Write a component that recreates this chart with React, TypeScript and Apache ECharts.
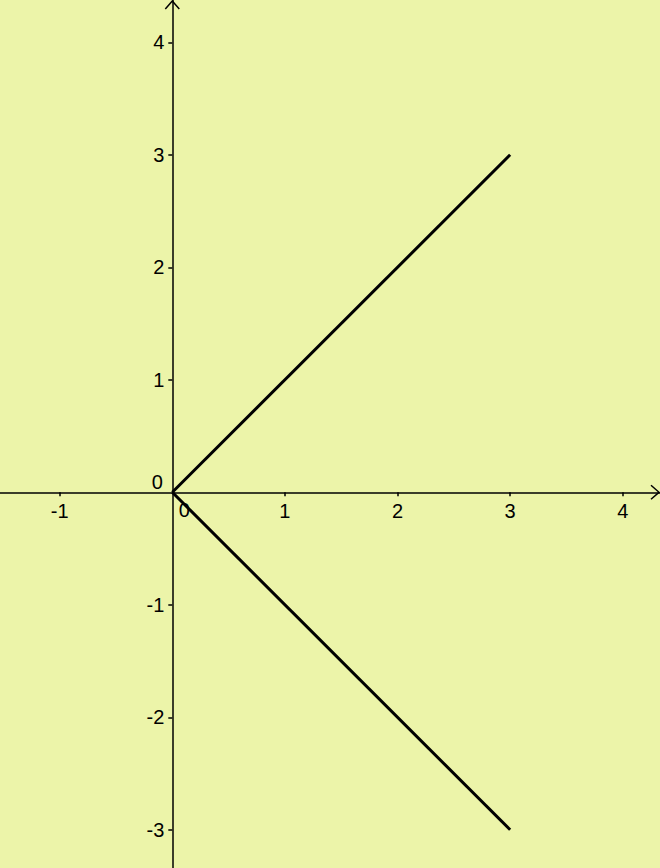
import React, { useEffect, useRef } from 'react';
import * as echarts from 'echarts';

const xRange = [-1.53, 4.331];
const yRange = [-3.34, 4.376];
const xTicks = [-1, 1, 2, 3, 4];
const yTicks = [-3, -2, -1, 1, 2, 3, 4];
const rayUp = [[0, 0], [3, 3]];
const rayDown = [[0, 0], [3, -3]];

const BG = '#ECF4A9';
const FONT = 'Liberation Sans, Arial, sans-serif';

export default function App() {
  const ref = useRef<HTMLDivElement>(null);
  useEffect(() => {
    document.body.style.margin = '0';
    const chart = echarts.init(ref.current!, null, { renderer: 'svg' });
    const arrowData = [[xRange[1], 0, 0], [0, yRange[1], 1]];
    // label data: [x, y, kind, text]; kind 0 = x tick, 1 = y tick, 2 = origin-left, 3 = origin-below
    const labelData: any[] = [
      ...xTicks.map((v) => [v, 0, 0, String(v)]),
      ...yTicks.map((v) => [0, v, 1, String(v)]),
      [0, 0, 2, '0'],
      [0, 0, 3, '0'],
    ];
    chart.setOption({
      animation: false,
      backgroundColor: BG,
      grid: { left: 0, right: 0, top: 0, bottom: 0, containLabel: false, outerBoundsMode: 'none' },
      xAxis: {
        type: 'value',
        min: xRange[0],
        max: xRange[1],
        minInterval: 1,
        maxInterval: 1,
        position: 'bottom',
        axisLine: { show: true, onZero: true, lineStyle: { color: '#000', width: 1.5 } },
        axisTick: { show: true, inside: false, length: 4, customValues: xTicks, lineStyle: { color: '#000', width: 1.5 } },
        axisLabel: { show: false },
        splitLine: { show: false },
      },
      yAxis: {
        type: 'value',
        min: yRange[0],
        max: yRange[1],
        minInterval: 1,
        maxInterval: 1,
        position: 'left',
        axisLine: { show: true, onZero: true, lineStyle: { color: '#000', width: 1.5 } },
        axisTick: { show: true, inside: false, length: 4, customValues: yTicks, lineStyle: { color: '#000', width: 1.5 } },
        axisLabel: { show: false },
        splitLine: { show: false },
      },
      series: [
        {
          type: 'line',
          data: rayUp,
          showSymbol: false,
          lineStyle: { color: '#000', width: 3 },
          silent: true,
        },
        {
          type: 'line',
          data: rayDown,
          showSymbol: false,
          lineStyle: { color: '#000', width: 3 },
          silent: true,
        },
        {
          type: 'custom',
          clip: false,
          silent: true,
          data: arrowData,
          renderItem: (params: any, api: any) => {
            const kind = api.value(2);
            const p = api.coord([api.value(0), api.value(1)]);
            const pts = kind === 0
              ? [[p[0] - 9, p[1] - 7], [p[0] - 1, p[1]], [p[0] - 9, p[1] + 7]]
              : [[p[0] - 7, p[1] + 9], [p[0], p[1] + 1], [p[0] + 7, p[1] + 9]];
            return {
              type: 'polyline',
              shape: { points: pts },
              style: { stroke: '#000', lineWidth: 1.5, fill: null },
            };
          },
        },
        {
          type: 'custom',
          clip: false,
          silent: true,
          data: labelData,
          dimensions: ['x', 'y', 'kind', { name: 'text', type: 'ordinal' }],
          renderItem: (params: any, api: any) => {
            const item = labelData[params.dataIndex];
            const kind = item[2];
            const p = api.coord([item[0], item[1]]);
            let x = p[0];
            let y = p[1];
            let align = 'center';
            if (kind === 0) {
              y = p[1] + 18.5;
            } else if (kind === 1) {
              x = p[0] - 8;
              align = 'right';
            } else if (kind === 2) {
              x = p[0] - 15;
              y = p[1] - 10;
            } else {
              x = p[0] + 12;
              y = p[1] + 18;
            }
            return {
              type: 'text',
              x,
              y,
              style: {
                text: item[3],
                fill: '#000',
                fontSize: 20,
                fontFamily: FONT,
                align,
                verticalAlign: 'middle',
              },
            };
          },
        },
      ],
    });
    return () => chart.dispose();
  }, []);
  return (
    <div
      ref={ref}
      style={{ position: 'absolute', left: 0, top: 0, width: 660, height: 868, background: BG }}
    />
  );
}
